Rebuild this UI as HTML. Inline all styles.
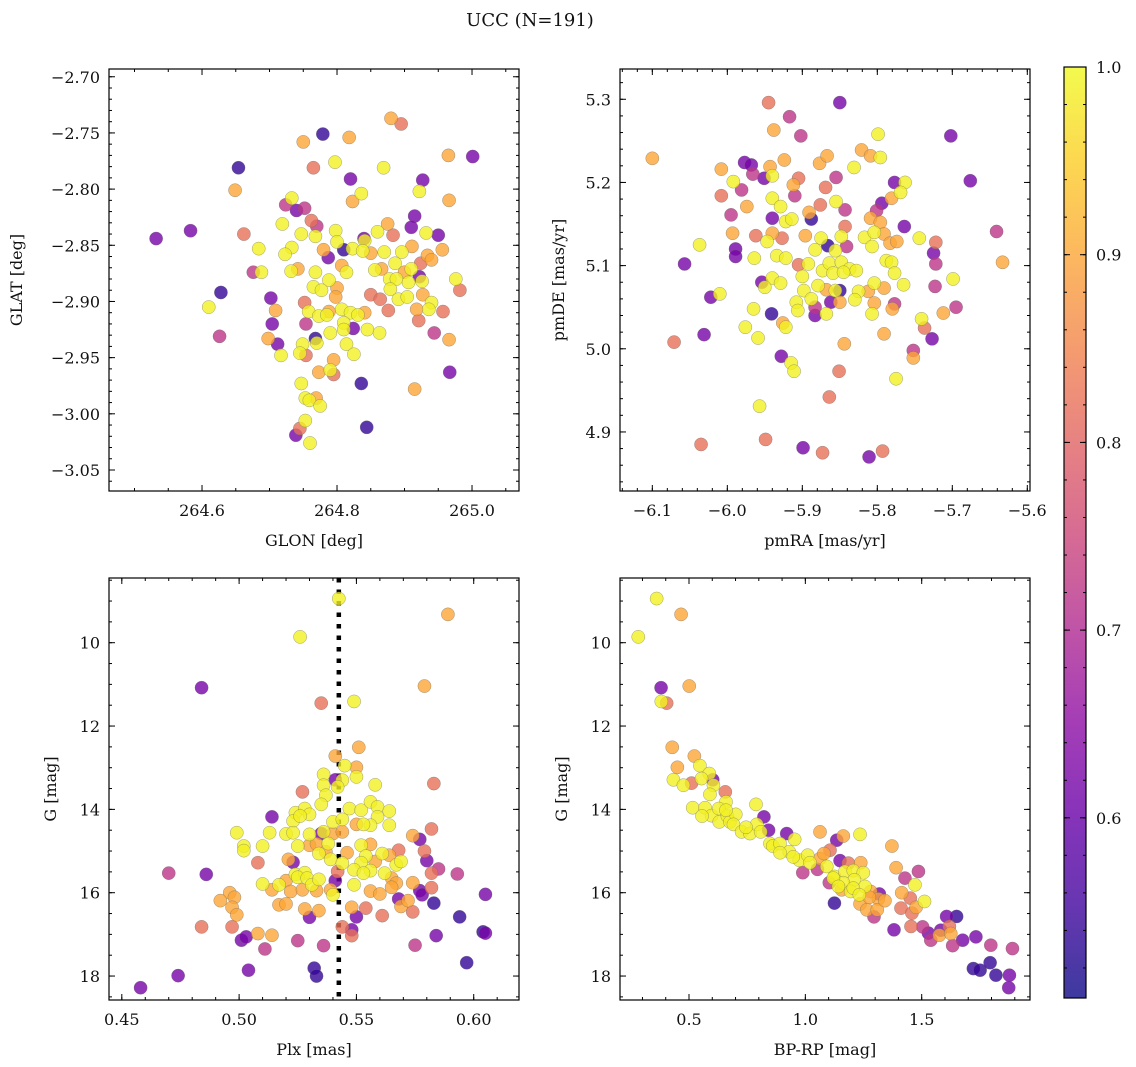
<!DOCTYPE html>
<html><head><meta charset="utf-8"><title>UCC (N=191)</title>
<style>
html,body{margin:0;padding:0;background:#fff;}
svg{display:block;font-family:"DejaVu Serif","Liberation Serif",serif;}
</style></head>
<body>
<svg id="fig" width="1136" height="1067" viewBox="0 0 1136 1067" xmlns="http://www.w3.org/2000/svg">
<rect width="1136" height="1067" fill="#fff"/>
<text x="530" y="26" font-size="18" text-anchor="middle" fill="#111">UCC (N=191)</text>
<defs><linearGradient id="cbgrad" x1="0" y1="1" x2="0" y2="0"></linearGradient></defs>
</svg>
<script>
// ---------- data: panel 1 (GLON vs GLAT) ----------
const tlGlon=[264.880,264.895,264.779,264.750,264.818,264.965,265.001,264.654,264.765,264.797,264.869,264.820,264.927,264.649,264.922,264.836,264.823,264.966,264.733,264.724,264.752,264.740,264.915,264.762,264.770,264.719,264.875,264.910,264.532,264.583,264.662,264.747,264.768,264.798,264.860,264.883,264.932,264.950,264.840,264.841,264.684,264.733,264.723,264.800,264.810,264.823,264.780,264.787,264.838,264.850,264.870,264.896,264.911,264.956,264.934,264.940,264.886,264.924,264.676,264.688,264.732,264.742,264.768,264.807,264.814,264.856,264.866,264.900,264.910,264.922,264.976,264.788,264.878,264.888,264.906,264.926,264.765,264.777,264.800,264.879,264.982,264.628,264.702,264.798,264.850,264.864,264.891,264.904,264.927,264.940,264.610,264.752,264.709,264.758,264.788,264.807,264.820,264.841,264.876,264.918,264.936,264.957,264.773,264.785,264.831,264.704,264.754,264.810,264.824,264.921,264.626,264.698,264.712,264.768,264.770,264.790,264.810,264.845,264.863,264.944,264.966,264.749,264.717,264.745,264.754,264.814,264.825,264.795,264.773,264.790,264.795,264.967,264.836,264.747,264.915,264.753,264.769,264.759,264.775,264.753,264.745,264.844,264.739,264.760];
const tlGlat=[-2.737,-2.742,-2.751,-2.758,-2.754,-2.770,-2.771,-2.781,-2.781,-2.776,-2.781,-2.791,-2.792,-2.801,-2.802,-2.804,-2.811,-2.810,-2.808,-2.814,-2.817,-2.819,-2.824,-2.828,-2.833,-2.831,-2.831,-2.834,-2.844,-2.837,-2.840,-2.840,-2.842,-2.837,-2.838,-2.841,-2.839,-2.841,-2.844,-2.846,-2.853,-2.852,-2.858,-2.847,-2.854,-2.853,-2.854,-2.861,-2.855,-2.857,-2.856,-2.856,-2.851,-2.854,-2.859,-2.863,-2.866,-2.866,-2.874,-2.874,-2.873,-2.871,-2.874,-2.868,-2.874,-2.872,-2.871,-2.874,-2.871,-2.878,-2.880,-2.881,-2.880,-2.880,-2.883,-2.882,-2.887,-2.890,-2.888,-2.889,-2.890,-2.892,-2.897,-2.896,-2.894,-2.898,-2.898,-2.896,-2.894,-2.901,-2.905,-2.901,-2.908,-2.909,-2.909,-2.907,-2.910,-2.910,-2.908,-2.907,-2.907,-2.909,-2.913,-2.912,-2.912,-2.920,-2.920,-2.919,-2.924,-2.917,-2.931,-2.933,-2.938,-2.933,-2.937,-2.928,-2.925,-2.925,-2.928,-2.928,-2.934,-2.938,-2.948,-2.946,-2.948,-2.938,-2.947,-2.952,-2.963,-2.961,-2.965,-2.963,-2.973,-2.973,-2.978,-2.986,-2.986,-2.988,-2.993,-3.006,-3.013,-3.012,-3.019,-3.026];
const tlProb=[.9,.82,.54,.9,.9,.9,.62,.54,.82,.99,.99,.62,.62,.9,.99,.99,.9,.9,.99,.72,.72,.62,.62,.82,.72,.99,.9,.62,.62,.62,.82,.99,.99,.99,.99,.82,.99,.62,.62,.99,.99,.99,.99,.99,.54,.99,.9,.62,.99,.9,.99,.99,.9,.9,.9,.9,.99,.82,.72,.99,.99,.9,.99,.9,.99,.99,.9,.9,.99,.62,.99,.99,.99,.99,.99,.99,.99,.99,.9,.99,.82,.54,.62,.9,.82,.82,.99,.99,.9,.99,.99,.82,.9,.99,.9,.99,.99,.9,.82,.9,.99,.82,.99,.99,.99,.62,.72,.99,.62,.82,.72,.9,.62,.54,.99,.99,.99,.99,.99,.72,.9,.99,.99,.99,.82,.99,.99,.9,.9,.99,.82,.62,.54,.99,.9,.99,.9,.99,.99,.99,.82,.54,.62,.99];
// ---------- data: panel 2 (pmRA vs pmDE) ----------
const trPmra=[-6.100,-5.945,-5.850,-5.917,-5.938,-5.902,-5.799,-5.702,-5.977,-5.968,-6.008,-5.966,-5.951,-5.943,-5.940,-5.924,-5.877,-5.867,-5.821,-5.809,-5.796,-5.831,-5.676,-5.992,-5.981,-6.008,-5.974,-5.995,-5.940,-5.929,-5.912,-5.905,-5.910,-5.869,-5.855,-5.876,-5.855,-5.843,-5.777,-5.763,-5.769,-5.781,-5.794,-5.801,-5.940,-5.922,-5.914,-5.888,-5.891,-5.809,-5.796,-5.764,-5.641,-5.843,-5.993,-5.962,-5.940,-5.927,-5.947,-5.896,-5.875,-5.848,-5.866,-5.841,-5.817,-5.804,-5.791,-5.783,-5.774,-5.807,-5.744,-5.722,-6.037,-5.989,-5.989,-5.964,-5.934,-5.922,-5.883,-5.856,-5.725,-5.722,-5.633,-6.057,-5.905,-5.892,-5.873,-5.864,-5.848,-5.837,-5.828,-5.788,-5.781,-5.777,-5.900,-5.859,-5.845,-5.940,-5.954,-5.950,-5.929,-5.879,-5.804,-5.791,-5.765,-5.723,-5.699,-6.022,-6.010,-5.898,-5.868,-5.856,-5.850,-5.825,-5.812,-5.888,-5.908,-5.862,-5.850,-5.830,-5.804,-5.777,-5.906,-5.883,-5.883,-5.868,-5.807,-5.780,-5.965,-5.941,-5.712,-5.695,-5.741,-5.737,-5.727,-6.031,-6.071,-5.976,-5.959,-5.926,-5.922,-5.844,-5.791,-5.752,-5.752,-5.928,-5.915,-5.911,-5.851,-5.775,-5.864,-5.957,-6.035,-5.949,-5.899,-5.873,-5.811,-5.793];
const trPmde=[5.229,5.296,5.296,5.279,5.263,5.256,5.258,5.256,5.224,5.221,5.216,5.210,5.205,5.219,5.208,5.227,5.223,5.232,5.239,5.232,5.230,5.218,5.202,5.201,5.191,5.184,5.171,5.161,5.181,5.171,5.197,5.205,5.184,5.194,5.206,5.173,5.177,5.167,5.200,5.200,5.188,5.181,5.175,5.166,5.157,5.153,5.156,5.156,5.164,5.157,5.152,5.147,5.141,5.147,5.139,5.136,5.139,5.133,5.129,5.136,5.133,5.135,5.124,5.123,5.134,5.140,5.138,5.127,5.129,5.123,5.133,5.128,5.125,5.120,5.111,5.109,5.112,5.109,5.119,5.118,5.115,5.102,5.104,5.102,5.101,5.102,5.094,5.103,5.104,5.096,5.094,5.106,5.104,5.091,5.087,5.091,5.092,5.085,5.080,5.074,5.079,5.076,5.079,5.073,5.077,5.075,5.084,5.062,5.066,5.070,5.071,5.070,5.070,5.069,5.069,5.060,5.056,5.056,5.056,5.059,5.055,5.054,5.046,5.050,5.040,5.042,5.042,5.048,5.048,5.042,5.043,5.050,5.036,5.025,5.012,5.017,5.008,5.026,5.013,5.031,5.026,5.006,5.018,4.998,4.989,4.991,4.983,4.973,4.973,4.964,4.942,4.931,4.885,4.891,4.881,4.875,4.870,4.877];
const trProb=[.9,.82,.62,.72,.9,.72,.99,.62,.62,.62,.9,.72,.62,.9,.99,.9,.9,.9,.9,.9,.99,.99,.62,.99,.72,.82,.9,.72,.99,.99,.9,.82,.72,.82,.72,.82,.99,.72,.62,.99,.99,.9,.62,.72,.62,.99,.99,.54,.9,.9,.9,.62,.72,.82,.9,.82,.9,.82,.99,.9,.99,.99,.54,.72,.99,.99,.9,.9,.9,.99,.99,.82,.99,.62,.62,.99,.99,.99,.99,.99,.62,.72,.9,.62,.82,.99,.99,.99,.99,.99,.99,.99,.99,.99,.99,.99,.99,.99,.62,.99,.99,.99,.99,.9,.99,.72,.99,.62,.99,.99,.9,.99,.54,.99,.9,.99,.99,.62,.9,.99,.9,.72,.99,.72,.62,.99,.99,.9,.99,.54,.9,.72,.99,.82,.62,.62,.82,.99,.99,.9,.99,.9,.9,.72,.9,.62,.99,.99,.82,.99,.82,.99,.82,.82,.62,.82,.62,.82];
// ---------- data: panel 3 (Plx vs G) ----------
const blPlx=[.5425,.589,.526,.484,.579,.535,.549,.551,.541,.545,.550,.527,.583,.536,.536,.541,.544,.542,.550,.558,.537,.535,.514,.524,.528,.530,.523,.526,.540,.544,.547,.552,.556,.559,.564,.559,.556,.553,.550,.564,.499,.513,.520,.523,.530,.535,.536,.540,.544,.574,.577,.582,.502,.502,.510,.525,.530,.533,.538,.534,.537,.546,.552,.556,.554,.561,.564,.568,.579,.508,.521,.523,.539,.544,.552,.558,.567,.569,.580,.470,.486,.524,.528,.542,.549,.556,.562,.585,.593,.582,.510,.517,.520,.525,.529,.531,.534,.541,.549,.553,.565,.567,.565,.574,.514,.522,.527,.533,.539,.540,.556,.560,.577,.578,.582,.605,.496,.498,.492,.497,.499,.517,.520,.528,.534,.530,.548,.550,.554,.561,.568,.569,.572,.574,.583,.594,.484,.497,.501,.503,.508,.514,.511,.525,.536,.544,.548,.548,.575,.584,.604,.605,.597,.504,.532,.533,.474,.458];
const blG=[8.94,9.32,9.86,11.08,11.04,11.45,11.41,12.51,12.72,12.95,12.99,13.58,13.38,13.16,13.42,13.29,13.30,13.46,13.22,13.41,13.66,13.88,14.18,14.08,13.98,14.12,14.28,14.16,14.30,14.24,13.98,14.02,13.82,13.94,14.04,14.18,14.38,14.36,14.36,14.38,14.56,14.56,14.59,14.56,14.60,14.58,14.54,14.58,14.54,14.63,14.72,14.47,14.88,14.99,14.88,14.88,14.86,14.83,14.82,15.06,15.02,15.04,14.86,14.84,15.12,15.06,15.10,14.98,15.00,15.28,15.20,15.27,15.20,15.29,15.28,15.25,15.33,15.25,15.23,15.53,15.56,15.56,15.52,15.49,15.45,15.47,15.53,15.43,15.55,15.53,15.79,15.81,15.71,15.63,15.65,15.81,15.68,15.71,15.81,15.53,15.65,15.77,15.87,15.76,15.93,15.97,15.93,15.95,15.93,16.05,15.96,16.03,15.95,16.05,15.88,16.04,16.00,16.11,16.19,16.35,16.53,16.29,16.27,16.39,16.43,16.59,16.35,16.58,16.37,16.55,16.15,16.33,16.19,16.46,16.25,16.58,16.82,16.82,17.14,17.06,16.98,17.02,17.35,17.15,17.27,16.82,16.89,17.03,17.26,17.03,16.94,16.97,17.68,17.86,17.81,18.00,17.99,18.28];
const blProb=[.99,.9,.99,.62,.9,.82,.99,.9,.9,.99,.9,.82,.82,.99,.99,.62,.99,.99,.99,.99,.99,.99,.62,.99,.99,.99,.99,.99,.99,.99,.99,.99,.99,.99,.99,.99,.99,.99,.9,.99,.99,.99,.99,.99,.99,.62,.99,.9,.9,.9,.62,.82,.99,.99,.99,.99,.9,.9,.99,.99,.9,.9,.99,.9,.99,.99,.9,.82,.82,.82,.9,.62,.99,.99,.99,.9,.99,.99,.62,.72,.62,.99,.99,.82,.99,.99,.99,.72,.72,.82,.99,.99,.9,.99,.99,.99,.99,.62,.99,.99,.9,.9,.9,.9,.9,.9,.9,.9,.9,.99,.9,.9,.62,.62,.82,.62,.9,.9,.9,.9,.9,.9,.9,.9,.9,.62,.9,.62,.82,.82,.62,.9,.9,.82,.54,.54,.82,.82,.62,.62,.9,.9,.72,.72,.72,.82,.62,.82,.72,.62,.54,.62,.54,.62,.54,.54,.62,.62];
const plxLine=[0.5425];
// ---------- data: panel 4 (BP-RP vs G) ----------
const brBprp=[0.361,0.466,0.282,0.380,0.501,0.404,0.381,0.428,0.523,0.450,0.547,0.587,0.433,0.476,0.511,0.554,0.602,0.605,0.590,0.656,0.659,0.788,0.516,0.569,0.597,0.628,0.630,0.556,0.665,0.676,0.701,0.691,0.726,0.762,0.791,0.808,0.822,0.842,0.920,0.954,0.848,0.860,0.891,0.931,0.974,1.010,0.989,1.063,1.135,1.163,1.235,1.052,1.106,1.063,1.080,1.149,1.092,1.125,1.170,1.185,1.206,1.238,1.249,1.211,1.163,1.103,1.156,1.195,1.256,1.281,1.318,1.314,1.235,1.264,1.309,1.342,1.295,1.125,1.372,1.390,1.428,1.486,1.471,1.414,1.451,1.411,1.458,1.476,1.512,1.381,1.454,1.504,1.529,1.539,1.582,1.576,1.625,1.619,1.607,1.650,1.633,1.676,1.733,1.797,1.890,1.722,1.751,1.794,1.819,1.877,1.874,0.891,0.948,1.020,1.120,1.142,1.206,1.232,1.275,0.659,0.745];
const brG=[8.94,9.32,9.86,11.08,11.04,11.45,11.41,12.51,12.72,12.99,12.95,13.14,13.29,13.42,13.37,13.26,13.29,13.42,13.64,13.58,13.82,13.88,13.96,13.96,14.15,13.98,14.30,14.16,14.16,14.30,14.12,14.36,14.54,14.58,14.36,14.54,14.18,14.50,14.58,14.72,14.82,14.88,14.82,15.02,15.22,15.10,15.52,14.54,14.74,14.64,14.60,15.44,14.98,15.18,15.06,15.23,15.37,15.61,15.49,15.29,15.47,15.28,15.52,15.69,15.76,15.76,15.93,15.97,15.85,15.97,16.03,16.15,16.27,16.41,16.41,16.19,16.58,16.25,14.88,15.40,15.65,15.49,15.81,16.00,16.13,16.37,16.49,16.35,16.21,16.89,16.81,16.82,16.97,17.14,16.90,17.02,16.98,16.81,16.57,16.57,17.27,17.14,17.06,17.26,17.34,17.82,17.86,17.68,17.98,17.98,18.28,15.04,15.14,15.28,15.65,15.85,15.89,16.05,16.11,14.02,14.43];
const brProb=[.99,.9,.99,.62,.9,.82,.99,.9,.9,.9,.99,.99,.99,.99,.82,.99,.62,.99,.99,.82,.99,.99,.99,.99,.99,.99,.99,.99,.99,.99,.99,.99,.99,.99,.99,.99,.62,.62,.62,.99,.99,.99,.99,.99,.99,.99,.72,.9,.62,.9,.99,.72,.82,.9,.9,.62,.99,.99,.99,.82,.99,.9,.99,.99,.99,.72,.9,.99,.99,.9,.62,.9,.9,.9,.9,.9,.72,.54,.9,.9,.72,.72,.99,.9,.82,.82,.82,.9,.99,.62,.82,.72,.62,.72,.62,.9,.9,.82,.62,.54,.72,.62,.62,.72,.72,.54,.54,.54,.54,.62,.62,.99,.99,.99,.99,.99,.99,.99,.9,.99,.99];
// ---------- tick labels ----------
const tlXTicks=[264.6,264.8,265.0];
const tlYTicks=[-2.70,-2.75,-2.80,-2.85,-2.90,-2.95,-3.00,-3.05];
const trXTicks=[-6.1,-6.0,-5.9,-5.8,-5.7,-5.6];
const trYTicks=[4.9,5.0,5.1,5.2,5.3];
const blXTicks=[0.45,0.50,0.55,0.60];
const gTicks=[10,12,14,16,18];
const brXTicks=[0.5,1.0,1.5];
const cbTicks=[0.6,0.7,0.8,0.9,1.0];

const NS="http://www.w3.org/2000/svg";
const svg=document.getElementById('fig');
function el(tag,attrs,parent){const e=document.createElementNS(NS,tag);for(const k in attrs)e.setAttribute(k,attrs[k]);(parent||svg).appendChild(e);return e;}
const stops=[[13,8,135],[65,4,157],[106,0,168],[143,13,164],[177,42,144],[204,71,120],[225,100,98],[242,132,75],[252,166,54],[252,206,37],[240,249,33]];
function plasma(t){t=Math.max(0,Math.min(1,t));const f=t*10,i=Math.min(9,Math.floor(f)),u=f-i;const a=stops[i],b=stops[i+1];return 'rgb('+a.map((v,k)=>Math.round(v+(b[k]-v)*u)).join(',')+')';}
const CMIN=0.504,CMAX=1.0;
function cmap(v){return plasma((v-CMIN)/(CMAX-CMIN));}
const fmt=(v,d)=>{const s=Math.abs(v).toFixed(d);return (v<0?'\u2212':'')+s;};
const FS=16;

function panel(o){
  const g=el('g',{});
  
  
  const X=v=>o.x0+(v-o.xd[0])/(o.xd[1]-o.xd[0])*o.w;
  const Y=v=>o.y0+(v-o.yd[0])/(o.yd[1]-o.yd[0])*o.h;
  const tk=(p,isX,len)=>{
    if(isX){el('line',{x1:p,x2:p,y1:o.y0+o.h,y2:o.y0+o.h-len,stroke:'#000','stroke-width':1},g);el('line',{x1:p,x2:p,y1:o.y0,y2:o.y0+len,stroke:'#000','stroke-width':1},g);}
    else{el('line',{x1:o.x0,x2:o.x0+len,y1:p,y2:p,stroke:'#000','stroke-width':1},g);el('line',{x1:o.x0+o.w,x2:o.x0+o.w-len,y1:p,y2:p,stroke:'#000','stroke-width':1},g);}
  };
  const lo=Math.min(o.xd[0],o.xd[1]),hi=Math.max(o.xd[0],o.xd[1]);
  for(let k=Math.ceil(lo/o.xm-1e-6);k*o.xm<=hi+1e-9;k++)tk(X(k*o.xm),true,3);
  const ylo=Math.min(o.yd[0],o.yd[1]),yhi=Math.max(o.yd[0],o.yd[1]);
  for(let k=Math.ceil(ylo/o.ym-1e-6);k*o.ym<=yhi+1e-9;k++)tk(Y(k*o.ym),false,3);
  o.xt.forEach(v=>{const p=X(v);tk(p,true,6);
    const t=el('text',{x:p,y:o.y0+o.h+25,'font-size':FS,'text-anchor':'middle',fill:'#111'},g);t.textContent=fmt(v,o.xdp);
    
    });
  o.yt.forEach(v=>{const p=Y(v);tk(p,false,6);
    const t=el('text',{x:o.x0-9,y:p+6,'font-size':FS,'text-anchor':'end',fill:'#111'},g);t.textContent=fmt(v,o.ydp);
    
    });
  const xl=el('text',{x:o.x0+o.w/2,y:o.y0+o.h+55,'font-size':FS,'text-anchor':'middle',fill:'#111'},g);xl.textContent=o.xlab;
  
  
  const yx=o.ylx,yy=o.y0+o.h/2;
  const yl=el('text',{x:yx,y:yy,'font-size':FS,'text-anchor':'middle',fill:'#111',transform:'rotate(-90 '+yx+' '+yy+')'},g);yl.textContent=o.ylab;
  
  
  const cid='clip'+o.name;const cp=el('clipPath',{id:cid},g);el('rect',{x:o.x0,y:o.y0,width:o.w,height:o.h},cp);
  const pg=el('g',{'clip-path':'url(#'+cid+')'},g);
  if(o.vline){o.vline.forEach(v=>{const l=el('line',{x1:X(v),x2:X(v),y1:o.y0,y2:o.y0+o.h,stroke:'#000','stroke-width':4.5,'stroke-dasharray':'4.5 7'},pg);
    
    });}
  const n=Math.min(o.xs.length,o.ys.length,o.cs.length);
  const idx=[...Array(n).keys()].sort((a,b)=>o.cs[a]-o.cs[b]);
  idx.forEach(i=>{const c=el('circle',{cx:X(o.xs[i]),cy:Y(o.ys[i]),r:6.6,fill:cmap(o.cs[i]),'fill-opacity':0.8,stroke:'#666','stroke-opacity':0.6,'stroke-width':0.5},pg);
    
    });
  el('rect',{x:o.x0,y:o.y0,width:o.w,height:o.h,fill:'none',stroke:'#000','stroke-width':1.2},g);
}
panel({name:'glon-glat-panel',x0:109,y0:69,w:410,h:422,xd:[264.4622,265.0696],yd:[-2.6931,-3.0687],xm:0.05,ym:0.01,xt:tlXTicks,yt:tlYTicks,xdp:1,ydp:2,xs:tlGlon,ys:tlGlat,cs:tlProb,xlab:'GLON [deg]',ylab:'GLAT [deg]',ylx:22});
panel({name:'pm-panel',x0:620,y0:69,w:410,h:422,xd:[-6.1431,-5.5964],yd:[5.3364,4.829],xm:0.02,ym:0.02,xt:trXTicks,yt:trYTicks,xdp:1,ydp:1,xs:trPmra,ys:trPmde,cs:trProb,xlab:'pmRA [mas/yr]',ylab:'pmDE [mas/yr]',ylx:564});
panel({name:'plx-g-panel',x0:109,y0:578,w:410,h:422,xd:[0.44454,0.6193],yd:[8.447,18.575],xm:0.01,ym:0.5,xt:blXTicks,yt:gTicks,xdp:2,ydp:0,xs:blPlx,ys:blG,cs:blProb,xlab:'Plx [mas]',ylab:'G [mag]',ylx:56,vline:plxLine});
panel({name:'cmd-panel',x0:620,y0:578,w:410,h:422,xd:[0.2035,1.9654],yd:[8.447,18.575],xm:0.1,ym:0.5,xt:brXTicks,yt:gTicks,xdp:1,ydp:0,xs:brBprp,ys:brG,cs:brProb,xlab:'BP-RP [mag]',ylab:'G [mag]',ylx:567});

// colorbar
const grad=document.getElementById('cbgrad');
for(let i=0;i<=20;i++){el('stop',{offset:(i/20),'stop-color':plasma(i/20)},grad);}
const cb=el('g',{});


const cbx=1064,cby=67,cbw=22,cbh=931;
el('rect',{x:cbx,y:cby,width:cbw,height:cbh,fill:'url(#cbgrad)','fill-opacity':0.8},cb);
const CY=v=>cby+(CMAX-v)/(CMAX-CMIN)*cbh;
for(let k=26;k<=50;k++){const v=k*0.02;const p=CY(v);if(p<cby-0.5||p>cby+cbh+0.5)continue;
  el('line',{x1:cbx,x2:cbx+3,y1:p,y2:p,stroke:'#000'},cb);el('line',{x1:cbx+cbw,x2:cbx+cbw-3,y1:p,y2:p,stroke:'#000'},cb);}
cbTicks.forEach(v=>{const p=CY(v);
  el('line',{x1:cbx,x2:cbx+6,y1:p,y2:p,stroke:'#000'},cb);el('line',{x1:cbx+cbw,x2:cbx+cbw-6,y1:p,y2:p,stroke:'#000'},cb);
  const t=el('text',{x:cbx+cbw+10,y:p+6,'font-size':FS,fill:'#111'},cb);t.textContent=v.toFixed(1);
  
  });
el('rect',{x:cbx,y:cby,width:cbw,height:cbh,fill:'none',stroke:'#000','stroke-width':1.2},cb);
</script>
</body></html>
